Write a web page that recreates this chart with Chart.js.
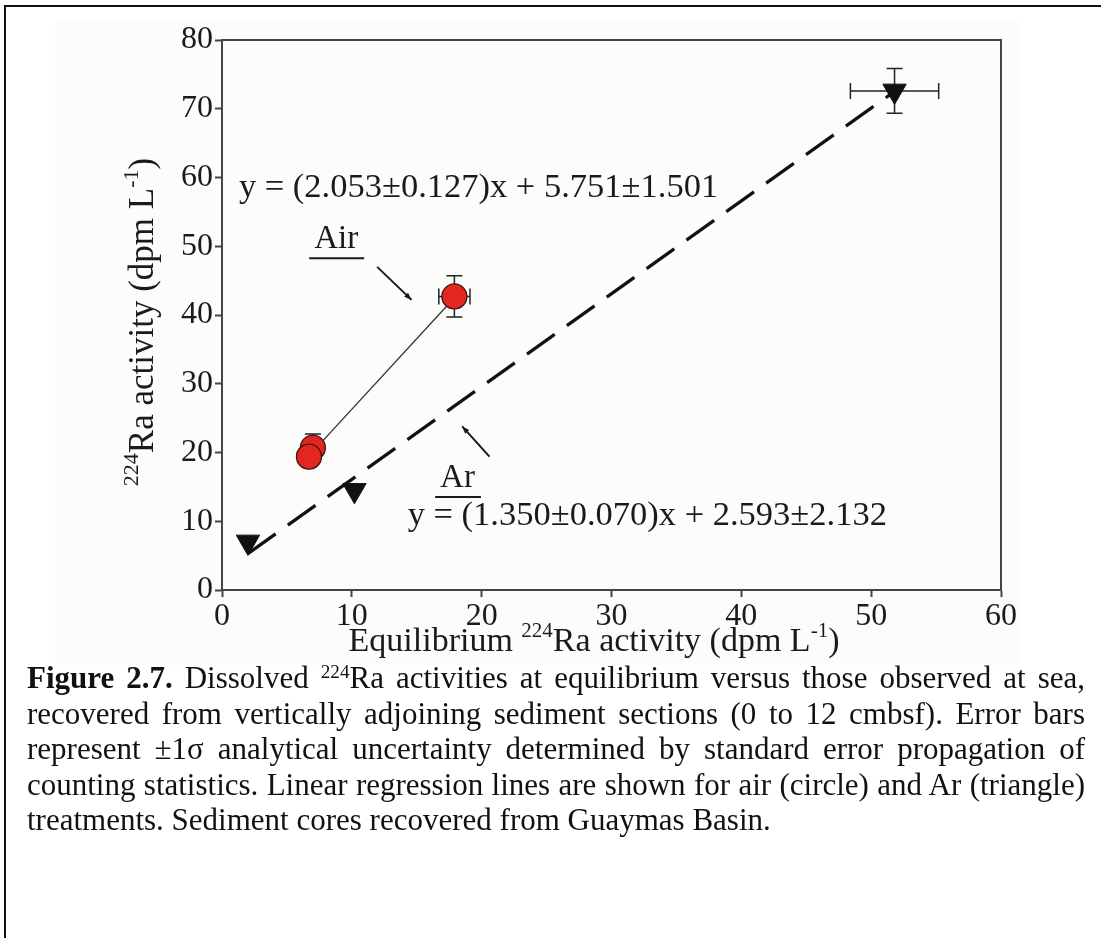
<!DOCTYPE html>
<html>
<head>
<meta charset="utf-8">
<script src="https://cdn.jsdelivr.net/npm/chart.js@4/dist/chart.umd.min.js"></script>
<style>
  html, body { margin: 0; padding: 0; background: #fff; }
  body { width: 1101px; height: 938px; position: relative; overflow: hidden;
         font-family: 'Liberation Serif', 'Times New Roman', serif; }
  #frame { position: absolute; left: 4px; top: 5px; width: 1120px; height: 1000px;
           border-top: 2px solid #111; border-left: 2px solid #111; }
  #panel { position: absolute; left: 55px; top: 20px; width: 965px; height: 645px; background: #fcfcfb; }
  #plot { position: absolute; left: 0; top: 0; }
  #caption { position: absolute; left: 27px; top: 660px; width: 1058px; font-size: 31px; color: #111; }
  .ln { height: 35.5px; line-height: 35.5px; text-align: justify; text-align-last: justify; }
  .ln.tight { word-spacing: -3px; }
  .ln.last { text-align: left; text-align-last: left; }
  .sup { font-size: 0.62em; position: relative; top: -0.5em; line-height: 0; }
</style>
</head>
<body>
<div id="frame"></div>
<div id="panel"></div>
<canvas id="plot" width="1101" height="670"></canvas>
<div id="caption">
  <div class="ln"><b>Figure 2.7.</b> Dissolved <span class="sup">224</span>Ra activities at equilibrium versus those observed at sea,</div>
  <div class="ln">recovered from vertically adjoining sediment sections (0 to 12 cmbsf). Error bars</div>
  <div class="ln">represent ±1σ analytical uncertainty determined by standard error propagation of</div>
  <div class="ln tight">counting statistics. Linear regression lines are shown for air (circle) and Ar (triangle)</div>
  <div class="ln last">treatments. Sediment cores recovered from Guaymas Basin.</div>
</div>
<script>
// Air treatment (circles): equilibrium vs observed 224Ra, with 1-sigma errors
const airX    = [17.9, 7.0, 6.7];
const airY    = [42.7, 20.7, 19.4];
const airXErr = [1.2, 0, 0];
const airYErr = [3.0, 2.0, 0];

// Ar treatment (triangles)
const arX    = [2.0, 10.2, 51.8];
const arY    = [7.0, 14.5, 72.6];
const arXErr = [0, 0, 3.4];
const arYErr = [0, 0, 3.25];

// Regression fits as reported in the equations, and the x-range each line spans
const airSlope = 2.053, airIntercept = 5.751, airFitRange = [7.0, 17.9];
const arSlope  = 1.350, arIntercept  = 2.593, arFitRange  = [2.0, 51.8];

const airEquation = 'y = (2.053±0.127)x + 5.751±1.501';
const arEquation  = 'y = (1.350±0.070)x + 2.593±2.132';

const xTicks = [0, 10, 20, 30, 40, 50, 60];
const yTicks = [0, 10, 20, 30, 40, 50, 60, 70, 80];

const FONT = "'Liberation Serif', 'Times New Roman', serif";
const INK = '#1a1a1a';

const pts = (xs, ys) => xs.map((x, i) => ({ x: x, y: ys[i] }));
const fitLine = (m, b, r) => r.map(x => ({ x: x, y: m * x + b }));

// Draws text made of normal and superscript runs; returns total width
function richText(ctx, parts, x, y, size, align) {
  const supSize = Math.round(size * 0.62);
  let w = 0;
  parts.forEach(p => {
    ctx.font = (p.sup ? supSize : size) + 'px ' + FONT;
    p.w = ctx.measureText(p.t).width;
    w += p.w;
  });
  let cx = align === 'center' ? x - w / 2 : x;
  ctx.textBaseline = 'alphabetic';
  ctx.textAlign = 'left';
  parts.forEach(p => {
    ctx.font = (p.sup ? supSize : size) + 'px ' + FONT;
    ctx.fillText(p.t, cx, p.sup ? y - size * 0.42 : y);
    cx += p.w;
  });
  return w;
}

function arrow(ctx, x1, y1, x2, y2) {
  ctx.beginPath();
  ctx.moveTo(x1, y1);
  ctx.lineTo(x2, y2);
  ctx.stroke();
  const a = Math.atan2(y2 - y1, x2 - x1), L = 8, s = 0.35;
  ctx.beginPath();
  ctx.moveTo(x2, y2);
  ctx.lineTo(x2 - L * Math.cos(a - s), y2 - L * Math.sin(a - s));
  ctx.lineTo(x2 - L * Math.cos(a + s), y2 - L * Math.sin(a + s));
  ctx.closePath();
  ctx.fill();
}

const decorations = {
  id: 'decorations',
  beforeDatasetsDraw(chart) {
    // error bars sit underneath the markers
    const ctx = chart.ctx, xs = chart.scales.x, ys = chart.scales.y;
    ctx.save();
    ctx.strokeStyle = '#222';
    ctx.lineWidth = 1.5;
    const cap = 8;
    const bars = (X, Y, EX, EY) => X.forEach((x, i) => {
      const px = xs.getPixelForValue(x), py = ys.getPixelForValue(Y[i]);
      ctx.beginPath();
      if (EX[i] > 0) {
        const l = xs.getPixelForValue(x - EX[i]), r = xs.getPixelForValue(x + EX[i]);
        ctx.moveTo(l, py); ctx.lineTo(r, py);
        ctx.moveTo(l, py - cap); ctx.lineTo(l, py + cap);
        ctx.moveTo(r, py - cap); ctx.lineTo(r, py + cap);
      }
      if (EY[i] > 0) {
        const t = ys.getPixelForValue(Y[i] + EY[i]), b = ys.getPixelForValue(Y[i] - EY[i]);
        ctx.moveTo(px, t); ctx.lineTo(px, b);
        ctx.moveTo(px - cap, t); ctx.lineTo(px + cap, t);
        ctx.moveTo(px - cap, b); ctx.lineTo(px + cap, b);
      }
      ctx.stroke();
    });
    bars(airX, airY, airXErr, airYErr);
    bars(arX, arY, arXErr, arYErr);
    ctx.restore();
  },
  afterDraw(chart) {
    const ctx = chart.ctx, a = chart.chartArea, xs = chart.scales.x, ys = chart.scales.y;
    const X = v => xs.getPixelForValue(v), Y = v => ys.getPixelForValue(v);
    ctx.save();
    // closed frame around the plot
    ctx.strokeStyle = '#444';
    ctx.lineWidth = 2;
    ctx.strokeRect(a.left, a.top, a.right - a.left, a.bottom - a.top);

    ctx.fillStyle = INK;
    // axis titles
    richText(ctx, [{ t: 'Equilibrium ' }, { t: '224', sup: true }, { t: 'Ra activity (dpm L' },
                   { t: '-1', sup: true }, { t: ')' }], a.left + 372, 651, 34, 'center');
    ctx.save();
    ctx.translate(153, (a.top + a.bottom) / 2 + 7);
    ctx.rotate(-Math.PI / 2);
    richText(ctx, [{ t: '224', sup: true }, { t: 'Ra activity (dpm L' }, { t: '-1', sup: true }, { t: ')' }],
             0, 0, 35, 'center');
    ctx.restore();

    // regression equations and treatment labels
    ctx.font = '34.5px ' + FONT;
    ctx.textAlign = 'left';
    ctx.textBaseline = 'alphabetic';
    ctx.fillText(airEquation, X(1.3), Y(57.2));
    ctx.fillText(arEquation, X(14.3), Y(9.45));

    ctx.lineWidth = 2;
    ctx.strokeStyle = INK;
    const label = (txt, x, y) => {
      ctx.font = '33px ' + FONT;
      const w = ctx.measureText(txt).width;
      ctx.fillText(txt, X(x), Y(y));
      ctx.beginPath();
      ctx.moveTo(X(x) - 5, Y(y) + 10);
      ctx.lineTo(X(x) + w + 6, Y(y) + 10);
      ctx.stroke();
    };
    label('Air', 7.1, 49.7);
    label('Ar', 16.8, 15.0);

    ctx.fillStyle = INK;
    arrow(ctx, X(11.95), Y(47.0), X(14.6), Y(42.2));
    arrow(ctx, X(20.6), Y(19.4), X(18.5), Y(23.8));
    ctx.restore();
  }
};

new Chart(document.getElementById('plot'), {
  data: {
    datasets: [
      { type: 'line', label: 'Air fit', data: fitLine(airSlope, airIntercept, airFitRange),
        borderColor: '#333', borderWidth: 1.3, pointRadius: 0, order: 3 },
      { type: 'line', label: 'Ar fit', data: fitLine(arSlope, arIntercept, arFitRange),
        borderColor: '#111', borderWidth: 3.2, borderDash: [34, 15], pointRadius: 0, order: 3 },
      { type: 'scatter', label: 'Air', data: pts(airX, airY), order: 1,
        pointStyle: 'circle', pointRadius: 12.5, backgroundColor: '#e3261f',
        borderColor: '#3a1512', borderWidth: 1.3 },
      { type: 'scatter', label: 'Ar', data: pts(arX, arY), order: 2,
        pointStyle: 'triangle', pointRotation: 180, pointRadius: 13.5,
        backgroundColor: '#111', borderColor: '#111', borderWidth: 1 }
    ]
  },
  options: {
    responsive: false,
    devicePixelRatio: 1,
    animation: false,
    layout: { padding: { left: 0, top: 40, right: 100, bottom: 0 } },
    plugins: { legend: { display: false }, tooltip: { enabled: false }, title: { display: false } },
    scales: {
      x: {
        type: 'linear', min: 0, max: 60,
        afterFit: s => { s.height = 80; },
        afterBuildTicks: s => { s.ticks = xTicks.map(v => ({ value: v })); },
        border: { display: true, color: '#444', width: 2 },
        grid: { drawOnChartArea: false, drawTicks: true, tickLength: 7, tickWidth: 2, tickColor: '#444' },
        ticks: { color: INK, font: { family: FONT, size: 32 }, padding: 0, maxRotation: 0 }
      },
      y: {
        type: 'linear', min: 0, max: 80,
        afterFit: s => { s.width = 222; },
        afterBuildTicks: s => { s.ticks = yTicks.map(v => ({ value: v })); },
        border: { display: true, color: '#444', width: 2 },
        grid: { drawOnChartArea: false, drawTicks: true, tickLength: 7, tickWidth: 2, tickColor: '#444' },
        ticks: { color: INK, font: { family: FONT, size: 32 }, padding: 2 }
      }
    }
  },
  plugins: [decorations]
});
</script>
</body>
</html>
